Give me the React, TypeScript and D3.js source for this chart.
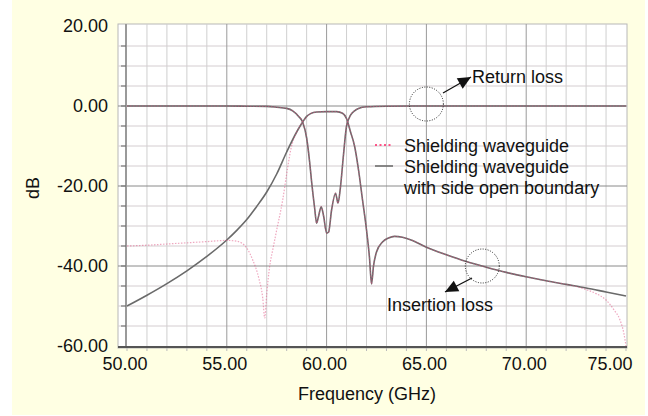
import * as d3 from 'd3';

// S21 (insertion loss) - shielding waveguide with side open boundary (solid)
const s21OpenFreq = [50, 51, 52, 53, 54, 55, 55.5, 56, 56.5, 57, 57.5, 58, 58.5, 58.8, 59, 59.2, 59.5, 60, 60.5, 60.8, 61, 61.2, 61.4, 61.6, 61.8, 62, 62.15, 62.25, 62.35, 62.5, 62.8, 63.1, 63.4, 63.8, 64.3, 65, 66, 67, 68, 69, 70, 71, 72, 73, 74, 75];
const s21OpenDb = [-50, -47.3, -44.4, -41.2, -37.6, -33.5, -31.1, -28.4, -25.1, -21.5, -17, -11.5, -6.5, -4, -2.6, -1.9, -1.5, -1.4, -1.4, -1.8, -3.2, -6.5, -10, -16, -23.5, -31, -38, -44.5, -40, -36.5, -34, -33, -32.6, -32.8, -33.6, -35.3, -37.2, -38.9, -40.3, -41.6, -42.7, -43.7, -44.6, -45.5, -46.5, -47.5];

// S21 - shielding waveguide (dotted)
const s21ShieldFreq = [50, 51, 52, 53, 54, 55, 55.5, 56, 56.3, 56.6, 56.8, 56.9, 57.0, 57.15, 57.3, 57.5, 57.8, 58, 58.2, 58.5, 58.8, 59, 59.2, 59.5, 60, 60.5, 60.8, 61, 61.2, 61.4, 61.6, 61.8, 62, 62.15, 62.25, 62.35, 62.5, 62.8, 63.1, 63.4, 63.8, 64.3, 65, 66, 67, 68, 69, 70, 71, 72, 72.5, 73, 73.5, 74, 74.4, 74.7, 74.9, 75];
const s21ShieldDb = [-35, -34.8, -34.5, -34.2, -33.9, -33.6, -33.8, -35.5, -38.5, -43, -48, -53, -47, -40, -36, -31, -23.5, -17, -11, -6.5, -4, -2.7, -1.9, -1.5, -1.4, -1.4, -1.8, -3.2, -6.5, -10, -16, -23.5, -31, -38, -44.5, -40, -36.5, -34, -33, -32.6, -32.8, -33.6, -35.3, -37.2, -38.9, -40.3, -41.6, -42.7, -43.7, -44.6, -45.1, -45.9, -46.9, -48.5, -51, -53.5, -57, -60];

// S11 (return loss) - both models overlap
const s11Freq = [50, 52, 54, 55, 56, 57, 57.5, 58, 58.3, 58.6, 58.8, 59, 59.15, 59.25, 59.4, 59.5, 59.6, 59.73, 59.85, 60, 60.1, 60.25, 60.45, 60.57, 60.7, 60.85, 61, 61.2, 61.4, 61.6, 62, 63, 65, 70, 75];
const s11OpenDb = [0, 0, 0, 0, -0.05, -0.1, -0.3, -0.6, -1.2, -2.6, -4, -8, -14, -19, -25.5, -29.3, -27.5, -25.2, -27.5, -31.8, -31.5, -26, -21.8, -24.3, -20, -12, -5, -2.3, -1.2, -0.6, -0.2, -0.05, 0, 0, 0];
const s11ShieldDb = [0, 0, 0, 0, -0.05, -0.1, -0.3, -0.6, -1.2, -2.6, -4, -8, -14, -19, -25.5, -29.3, -27.5, -25.2, -27.5, -31.8, -31.5, -26, -21.8, -24.3, -20, -12, -5, -2.3, -1.2, -0.6, -0.2, -0.05, 0, 0, 0];

const xTicks = [50, 55, 60, 65, 70, 75];
const yTicks = [-60, -40, -20, 0, 20];
const legendLabels = ['Shielding waveguide', 'Shielding waveguide', 'with side open boundary'];

const FONT = 'Arial, "Liberation Sans", sans-serif';

const App = () => {
  const x = d3.scaleLinear().domain([50, 75]).range([127, 626]);
  const y = d3.scaleLinear().domain([-60, 20]).range([346, 26]);

  const line = d3.line<[number, number]>()
    .x(d => x(d[0]))
    .y(d => y(d[1]))
    .curve(d3.curveMonotoneX);

  const zip = (f: number[], v: number[]) => f.map((fr, i) => [fr, v[i]] as [number, number]);

  const minorX = d3.range(51, 75, 1).filter(v => v % 5 !== 0);
  const minorY = d3.range(-55, 20, 5).filter(v => v % 20 !== 0);

  const labelCenter = (v: number) => Math.max(116, Math.min(610, x(v) - 2));

  const ann = [
    { label: 'Return loss', cx: 65, cy: 0.5, x1: 443, y1: 93, x2: 471, y2: 77, tx: 472, ty: 83 },
    { label: 'Insertion loss', cx: 67.8, cy: -40, x1: 472, y1: 278, x2: 445, y2: 292, tx: 387, ty: 311 },
  ];

  return (
    <div style={{ position: 'absolute', left: 0, top: 0 }}>
      <svg width={648} height={416} style={{ display: 'block' }}>
        <rect x={0} y={0} width={648} height={416} fill="#fff" />
        <rect x={12} y={0} width={633} height={415} fill="#ffffe3" />
        <rect x={118} y={24} width={509} height={324} fill="#fff" stroke="#b8b8b8" />

        {minorX.map(v => (
          <line key={'mx' + v} x1={x(v)} x2={x(v)} y1={24} y2={347} stroke="#cfcfcf" />
        ))}
        {minorY.map(v => (
          <line key={'my' + v} x1={118} x2={627} y1={y(v)} y2={y(v)} stroke="#d4cdd0" />
        ))}
        {[55, 60, 65, 70].map(v => (
          <line key={'Mx' + v} x1={x(v)} x2={x(v)} y1={24} y2={347} stroke="#9a9a9a" />
        ))}
        {[-40, -20, 0].map(v => (
          <line key={'My' + v} x1={118} x2={627} y1={y(v)} y2={y(v)} stroke="#8a8a8a" />
        ))}

        {/* axes */}
        <line x1={126} x2={126} y1={24} y2={348} stroke="#9a9a9a" strokeWidth={2} />
        {d3.range(-55, 20, 5).map(v => (
          <line key={'t' + v} x1={121} x2={126} y1={y(v)} y2={y(v)} stroke="#666" />
        ))}
        <line x1={118} x2={627} y1={347} y2={347} stroke="#555" strokeWidth={2} />
        {d3.range(50, 76, 1).map(v => (
          <line key={'bt' + v} x1={x(v)} x2={x(v)} y1={348} y2={351} stroke="#bbb" />
        ))}

        {/* curves */}
        <path d={line(zip(s21OpenFreq, s21OpenDb)) || ''} fill="none" stroke="#6a6a6a" strokeWidth={1.6} />
        <path d={line(zip(s11Freq, s11OpenDb)) || ''} fill="none" stroke="#6a6a6a" strokeWidth={1.6} />
        <path d={line(zip(s21ShieldFreq, s21ShieldDb)) || ''} fill="none" stroke="#e0507f" strokeOpacity={0.5}
          strokeWidth={1.2} strokeDasharray="1.5,1.5" />
        <path d={line(zip(s11Freq, s11ShieldDb)) || ''} fill="none" stroke="#e0507f" strokeOpacity={0.5}
          strokeWidth={1.2} strokeDasharray="1.5,1.5" />

        {/* tick labels */}
        {yTicks.map(v => (
          <text key={'yl' + v} x={108} y={y(v)} dy="0.36em" textAnchor="end" fontFamily={FONT} fontSize={18} fill="#111">
            {v.toFixed(2)}
          </text>
        ))}
        {xTicks.map(v => (
          <text key={'xl' + v} x={labelCenter(v)} y={370} textAnchor="middle" fontFamily={FONT} fontSize={18} fill="#111">
            {v.toFixed(2)}
          </text>
        ))}
        <text x={367} y={400} textAnchor="middle" fontFamily={FONT} fontSize={18} fill="#111">Frequency (GHz)</text>
        <text transform="translate(39,188) rotate(-90)" textAnchor="middle" fontFamily={FONT} fontSize={18} fill="#111">dB</text>

        {/* legend */}
        <line x1={375} x2={393} y1={145} y2={145} stroke="#ff2266" strokeWidth={1.5} strokeDasharray="2,2.5" />
        <line x1={375} x2={393} y1={166} y2={166} stroke="#666" strokeWidth={1.5} />
        {legendLabels.map((t, i) => (
          <text key={'lg' + i} x={404} y={152 + i * 21} fontFamily={FONT} fontSize={18} fill="#111">{t}</text>
        ))}

        {/* annotations */}
        {ann.map(a => {
          const ang = Math.atan2(a.y2 - a.y1, a.x2 - a.x1) * 180 / Math.PI;
          return (
            <g key={a.label}>
              <circle cx={x(a.cx)} cy={y(a.cy)} r={17} fill="none" stroke="#222" strokeWidth={1} strokeDasharray="1,1.5" />
              <line x1={a.x1} y1={a.y1} x2={a.x2} y2={a.y2} stroke="#111" strokeWidth={1.3} />
              <polygon points="0,0 -13,-6 -13,6" fill="#111" transform={`translate(${a.x2},${a.y2}) rotate(${ang})`} />
              <text x={a.tx} y={a.ty} fontFamily={FONT} fontSize={18} fill="#111">{a.label}</text>
            </g>
          );
        })}
      </svg>
    </div>
  );
};

export default App;
